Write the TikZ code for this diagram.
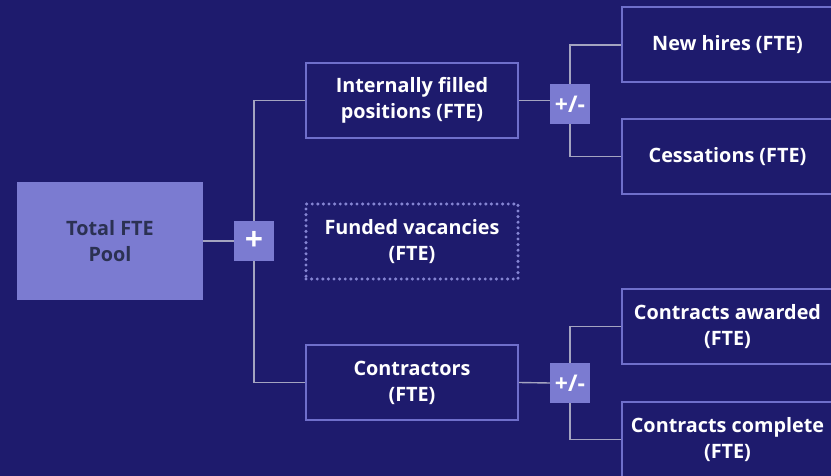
\documentclass[tikz,border=0pt]{standalone}
\usepackage{fontspec}
\setmainfont{Open Sans}
\usetikzlibrary{positioning}

\definecolor{bgnavy}{HTML}{1E1B6D}
\definecolor{lavender}{HTML}{6F6FCB}
\definecolor{poolfill}{HTML}{7B7BD1}
\definecolor{pooltext}{HTML}{2B3152}
\definecolor{linkgrey}{HTML}{A4A4C0}

\tikzset{
    boxtext/.style = {font=\fontsize{19.8}{26}\selectfont\bfseries, align=center, inner sep=0pt},
    levelbox/.style = {boxtext, draw=lavender, line width=2pt, fill=bgnavy, text=white,
                       minimum width=212pt, minimum height=75pt},
    dotbox/.style = {levelbox, draw=lavender!85!white, dash pattern=on 0pt off 5.6pt, line cap=round, line width=3.4pt},
    poolbox/.style = {boxtext, fill=poolfill, text=pooltext, minimum width=186pt, minimum height=118pt},
    opbox/.style = {fill=poolfill, text=white, font=\fontsize{23}{23}\selectfont\bfseries,
                    minimum width=40pt, minimum height=40pt, inner sep=0pt},
    link/.style = {draw=linkgrey, line width=1.4pt}
}

\begin{document}
\begin{tikzpicture}[x=1pt, y=-1pt]
    \fill [bgnavy] (0,0) rectangle (831,476);
    \useasboundingbox (0,0) rectangle (831,476);

    % level 0 and the sum
    \node [poolbox] (pool) at (110,241) {Total FTE\\Pool};
    \node [opbox, font=\fontsize{32}{32}\selectfont\bfseries] (plus) at (254,241) {+};

    % level 1
    \node [levelbox] (internal) at (412,100.5) {Internally filled\\positions (FTE)};
    \node [dotbox] (vacancy) at (412,241.5) {Funded vacancies\\(FTE)};
    \node [levelbox] (contract) at (412,382.5) {Contractors\\(FTE)};

    % changes
    \node [opbox] (pmint) at (570,104) {+/-};
    \node [opbox] (pmcon) at (570,383) {+/-};

    % level 2 (cut at the right edge)
    \node [levelbox] (hires) at (727.5,45) {New hires (FTE)};
    \node [levelbox] (cess) at (727.5,156.5) {Cessations (FTE)};
    \node [levelbox] (awarded) at (727.5,326.5) {Contracts awarded\\(FTE)};
    \node [levelbox] (complete) at (727.5,439.5) {Contracts complete\\(FTE)};

    % connectors
    \draw [link] (pool) -- (plus);
    \draw [link] (internal.west) -| (plus.north);
    \draw [link] (contract.west) -| (plus.south);
    \draw [link] (internal.east) -- (internal.east -| pmint.west);
    \draw [link] (contract.east) -- (pmcon.west);
    \draw [link] (pmint.north) |- (hires.west);
    \draw [link] (pmint.south) |- (cess.west);
    \draw [link] (pmcon.north) |- (awarded.west);
    \draw [link] (pmcon.south) |- (complete.west);
\end{tikzpicture}
\end{document}
